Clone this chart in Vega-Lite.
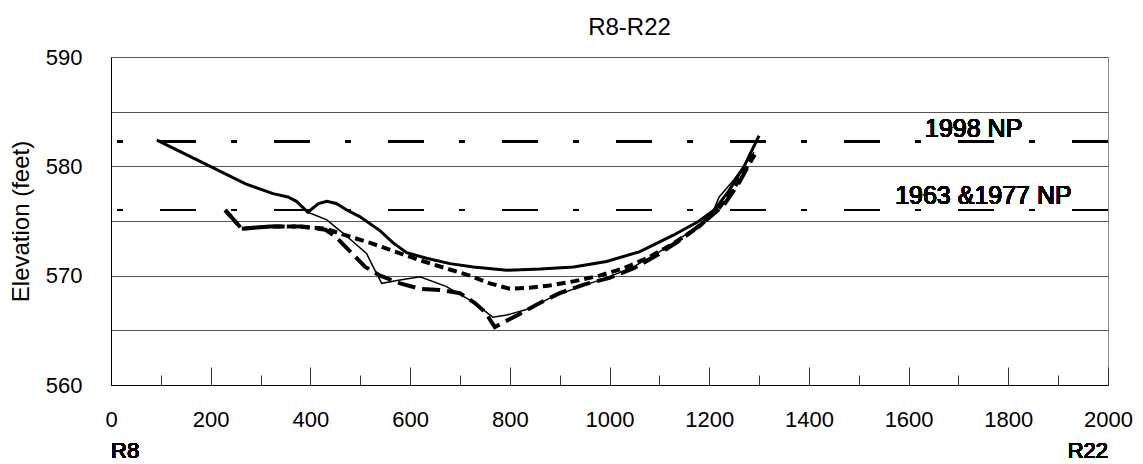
{
  "$schema": "https://vega.github.io/schema/vega-lite/v6.json",
  "width": 997,
  "height": 328,
  "autosize": {"type": "none"},
  "padding": {"left": 111, "top": 57, "right": 35, "bottom": 79},
  "background": "white",
  "config": {"font": "Liberation Sans", "view": {"stroke": "#888", "strokeWidth": 1}},
  "title": {"text": "R8-R22", "fontSize": 24, "fontWeight": "normal", "font": "Liberation Sans", "color": "black", "anchor": "middle", "dx": 20, "offset": -18, "baseline": "bottom", "frame": "group"},
  "data": {"values": [
    {"s": "A", "x": 92, "y": 582.4}, {"s": "A", "x": 199, "y": 580.0}, {"s": "A", "x": 270, "y": 578.4}, {"s": "A", "x": 325, "y": 577.5}, {"s": "A", "x": 355, "y": 577.2}, {"s": "A", "x": 372, "y": 576.8}, {"s": "A", "x": 395, "y": 575.8}, {"s": "A", "x": 416, "y": 576.6}, {"s": "A", "x": 433, "y": 576.8}, {"s": "A", "x": 452, "y": 576.6}, {"s": "A", "x": 473, "y": 576.0}, {"s": "A", "x": 499, "y": 575.4}, {"s": "A", "x": 540, "y": 574.1}, {"s": "A", "x": 566, "y": 573.0}, {"s": "A", "x": 593, "y": 572.1}, {"s": "A", "x": 633, "y": 571.6}, {"s": "A", "x": 680, "y": 571.1}, {"s": "A", "x": 727, "y": 570.8}, {"s": "A", "x": 794, "y": 570.5}, {"s": "A", "x": 861, "y": 570.6}, {"s": "A", "x": 928, "y": 570.8}, {"s": "A", "x": 994, "y": 571.3}, {"s": "A", "x": 1061, "y": 572.2}, {"s": "A", "x": 1128, "y": 573.7}, {"s": "A", "x": 1180, "y": 575.0}, {"s": "A", "x": 1210, "y": 576.0}, {"s": "A", "x": 1240, "y": 577.8}, {"s": "A", "x": 1270, "y": 580.0}, {"s": "A", "x": 1300, "y": 582.8},
    {"s": "B", "x": 395, "y": 575.8}, {"s": "B", "x": 433, "y": 575.1}, {"s": "B", "x": 473, "y": 573.6}, {"s": "B", "x": 513, "y": 572.0}, {"s": "B", "x": 526, "y": 570.8}, {"s": "B", "x": 543, "y": 569.3}, {"s": "B", "x": 580, "y": 569.6}, {"s": "B", "x": 620, "y": 569.9}, {"s": "B", "x": 673, "y": 569.0}, {"s": "B", "x": 726, "y": 567.6}, {"s": "B", "x": 766, "y": 566.2}, {"s": "B", "x": 794, "y": 566.4}, {"s": "B", "x": 840, "y": 567.0}, {"s": "B", "x": 887, "y": 568.1}, {"s": "B", "x": 941, "y": 569.0}, {"s": "B", "x": 994, "y": 569.8}, {"s": "B", "x": 1048, "y": 570.8}, {"s": "B", "x": 1101, "y": 572.2}, {"s": "B", "x": 1168, "y": 574.2}, {"s": "B", "x": 1205, "y": 575.6}, {"s": "B", "x": 1220, "y": 577.2}, {"s": "B", "x": 1250, "y": 578.8}, {"s": "B", "x": 1290, "y": 581.3},
    {"s": "C", "x": 229, "y": 576.0}, {"s": "C", "x": 262, "y": 574.3}, {"s": "C", "x": 320, "y": 574.5}, {"s": "C", "x": 380, "y": 574.5}, {"s": "C", "x": 430, "y": 574.3}, {"s": "C", "x": 470, "y": 573.7}, {"s": "C", "x": 520, "y": 573.0}, {"s": "C", "x": 570, "y": 572.2}, {"s": "C", "x": 620, "y": 571.4}, {"s": "C", "x": 670, "y": 570.7}, {"s": "C", "x": 720, "y": 570.0}, {"s": "C", "x": 760, "y": 569.3}, {"s": "C", "x": 800, "y": 568.8}, {"s": "C", "x": 840, "y": 568.9}, {"s": "C", "x": 880, "y": 569.1}, {"s": "C", "x": 930, "y": 569.5}, {"s": "C", "x": 980, "y": 570.0}, {"s": "C", "x": 1030, "y": 570.7}, {"s": "C", "x": 1080, "y": 571.7}, {"s": "C", "x": 1130, "y": 573.0}, {"s": "C", "x": 1180, "y": 574.5}, {"s": "C", "x": 1220, "y": 576.2}, {"s": "C", "x": 1250, "y": 578.0}, {"s": "C", "x": 1280, "y": 580.3}, {"s": "C", "x": 1295, "y": 581.3},
    {"s": "D", "x": 229, "y": 576.0}, {"s": "D", "x": 262, "y": 574.3}, {"s": "D", "x": 320, "y": 574.5}, {"s": "D", "x": 380, "y": 574.5}, {"s": "D", "x": 430, "y": 574.2}, {"s": "D", "x": 450, "y": 573.6}, {"s": "D", "x": 480, "y": 572.2}, {"s": "D", "x": 510, "y": 570.8}, {"s": "D", "x": 540, "y": 570.0}, {"s": "D", "x": 580, "y": 569.3}, {"s": "D", "x": 620, "y": 568.8}, {"s": "D", "x": 660, "y": 568.7}, {"s": "D", "x": 700, "y": 568.4}, {"s": "D", "x": 730, "y": 567.5}, {"s": "D", "x": 750, "y": 566.7}, {"s": "D", "x": 770, "y": 565.3}, {"s": "D", "x": 790, "y": 565.8}, {"s": "D", "x": 820, "y": 566.5}, {"s": "D", "x": 860, "y": 567.5}, {"s": "D", "x": 900, "y": 568.4}, {"s": "D", "x": 950, "y": 569.2}, {"s": "D", "x": 1000, "y": 569.8}, {"s": "D", "x": 1050, "y": 570.7}, {"s": "D", "x": 1100, "y": 572.0}, {"s": "D", "x": 1150, "y": 573.5}, {"s": "D", "x": 1200, "y": 575.3}, {"s": "D", "x": 1230, "y": 576.5}, {"s": "D", "x": 1260, "y": 578.5}, {"s": "D", "x": 1290, "y": 581.0}
  ]},
  "layer": [
    {
      "transform": [{"filter": "datum.s === 'A'"}],
      "mark": {"type": "line", "color": "black", "strokeWidth": 3},
      "encoding": {
        "x": {"field": "x", "type": "quantitative", "scale": {"domain": [0, 2000], "nice": false},
          "axis": {"title": null, "values": [0,100,200,300,400,500,600,700,800,900,1000,1100,1200,1300,1400,1500,1600,1700,1800,1900,2000],
            "labelExpr": "datum.value % 200 === 0 ? format(datum.value, 'd') : ''", "grid": false,
            "domainColor": "black", "domainWidth": 1, "labelFontSize": 22, "labelFont": "Liberation Sans", "labelColor": "black",
            "labelFlush": false, "labelOverlap": false, "labelPadding": 42,
            "tickColor": "#333", "tickWidth": 1, "tickSize": {"condition": {"test": "datum.value % 200 === 0", "value": -18}, "value": -10}}},
        "y": {"field": "y", "type": "quantitative", "scale": {"domain": [560, 590], "nice": false, "zero": false},
          "axis": {"title": "Elevation (feet)", "values": [560,565,570,575,580,585,590],
            "labelExpr": "datum.value % 10 === 0 ? datum.label : ''", "grid": true, "gridColor": "#555", "gridWidth": 1,
            "ticks": false, "domainColor": "black", "domainWidth": 1, "labelFontSize": 22, "labelFont": "Liberation Sans",
            "labelColor": "black", "labelPadding": 29, "labelFlush": false, "labelOverlap": false,
            "titleFont": "Liberation Sans", "titleFontSize": 24, "titleFontWeight": "normal", "titleColor": "black", "titlePadding": 12}}
      }
    },
    {
      "transform": [{"filter": "datum.s === 'B'"}],
      "mark": {"type": "line", "color": "black", "strokeWidth": 1.5},
      "encoding": {"x": {"field": "x", "type": "quantitative"}, "y": {"field": "y", "type": "quantitative"}}
    },
    {
      "transform": [{"filter": "datum.s === 'C'"}],
      "mark": {"type": "line", "color": "black", "strokeWidth": 4, "strokeDash": [9, 5]},
      "encoding": {"x": {"field": "x", "type": "quantitative"}, "y": {"field": "y", "type": "quantitative"}}
    },
    {
      "transform": [{"filter": "datum.s === 'D'"}],
      "mark": {"type": "line", "color": "black", "strokeWidth": 4, "strokeDash": [18, 7]},
      "encoding": {"x": {"field": "x", "type": "quantitative"}, "y": {"field": "y", "type": "quantitative"}}
    },
    {
      "mark": {"type": "rule", "color": "black", "strokeWidth": 2, "strokeDash": [36, 37, 6, 35]},
      "encoding": {"y": {"datum": 582.25}}
    },
    {
      "mark": {"type": "rule", "color": "black", "strokeWidth": 2, "strokeDash": [36, 37, 6, 35]},
      "encoding": {"y": {"datum": 576}}
    },
    {
      "mark": {"type": "text", "text": "1998 NP", "align": "left", "baseline": "alphabetic", "fontSize": 25, "font": "Liberation Sans", "color": "black", "dy": -5},
      "encoding": {"x": {"datum": 1633}, "y": {"datum": 582.25}}
    },
    {
      "mark": {"type": "text", "text": "1963 &1977 NP", "align": "left", "baseline": "alphabetic", "fontSize": 25, "font": "Liberation Sans", "color": "black", "dy": -6},
      "encoding": {"x": {"datum": 1573}, "y": {"datum": 576}}
    },
    {
      "mark": {"type": "text", "text": "R8", "align": "left", "baseline": "alphabetic", "fontSize": 22, "font": "Liberation Sans", "color": "black", "dy": 73},
      "encoding": {"x": {"datum": 0}, "y": {"datum": 560}}
    },
    {
      "mark": {"type": "text", "text": "R22", "align": "right", "baseline": "alphabetic", "fontSize": 22, "font": "Liberation Sans", "color": "black", "dy": 73},
      "encoding": {"x": {"datum": 2000}, "y": {"datum": 560}}
    }
  ]
}
